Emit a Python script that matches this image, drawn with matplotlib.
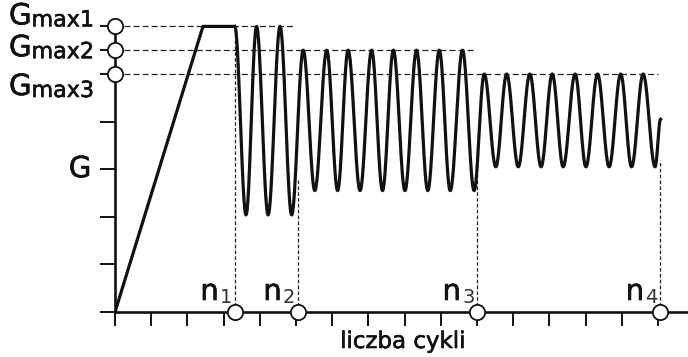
import numpy as np
import matplotlib
matplotlib.use("Agg")
import matplotlib.pyplot as plt
import matplotlib.patheffects as pe

plt.rcParams['font.family'] = ['DejaVu Sans']
plt.rcParams['lines.scale_dashes'] = False

# ---- data ----
ramp_x = [0.0, 2.43, 3.31]
ramp_y = [0.0, 6.0, 6.0]

osc_x = [3.31, 3.62, 3.91, 4.23, 4.56, 4.88,
         5.20, 5.52, 5.85, 6.15, 6.44, 6.77, 7.09, 7.39, 7.69, 8.01,
         8.33, 8.64, 8.96, 9.26, 9.60, 9.92,
         10.20, 10.52, 10.82, 11.14, 11.46, 11.77, 12.08, 12.38, 12.71, 13.01,
         13.33, 13.65, 13.97, 14.27, 14.59, 14.92, 15.07]
osc_y = [6.0, 2.04, 6.0, 2.04, 6.0, 2.04,
         5.5, 2.55, 5.5, 2.55, 5.5, 2.55, 5.5, 2.55, 5.5, 2.55,
         5.5, 2.55, 5.5, 2.55, 5.5, 2.55,
         5.0, 3.05, 5.0, 3.05, 5.0, 3.05, 5.0, 3.05, 5.0, 3.05,
         5.0, 3.05, 5.0, 3.05, 5.0, 3.05, 4.05]

gmax_levels = [6.0, 5.5, 5.0]
gmax_ends = [4.97, 9.97, 15.0]
gmax_labels = ["max1", "max2", "max3"]

n_pos = [3.31, 5.05, 10.0, 15.06]
n_dash_top = [6.0, 2.8, 3.1, 3.2]
n_labels = ["1", "2", "3", "4"]

x_ticks = list(range(16))
y_ticks = [0, 1, 2, 3, 4, 5, 5.5, 6]
x_label = "liczba cykli"
y_label = "G"

# ---- figure ----
W, H = 688, 357
fig = plt.figure(figsize=(W / 100, H / 100), dpi=100)
x0px, y0px = 115, 45
ux, uy = 36.2, 47.6
xmax = (W - x0px) / ux
ymax = 6.35
ax = fig.add_axes([x0px / W, y0px / H, (W - x0px) / W, ymax * uy / H])
ax.set_xlim(0, xmax)
ax.set_ylim(0, ymax)

ink = '#111111'
thick = [pe.withStroke(linewidth=0.45, foreground=ink)]

# smooth oscillation between extrema
def eased(xs, ys, k=30):
    ox, oy = [xs[0]], [ys[0]]
    t = np.linspace(0, 1, k)[1:]
    for i in range(len(xs) - 1):
        ox.extend(xs[i] + (xs[i + 1] - xs[i]) * t)
        oy.extend(ys[i] + (ys[i + 1] - ys[i]) * (1 - np.cos(np.pi * t)) / 2)
    return ox, oy

cx, cy = eased(osc_x, osc_y)
ax.plot(ramp_x, ramp_y, color=ink, lw=2.3, solid_capstyle='butt', zorder=4)
ax.plot(cx, cy, color=ink, lw=2.3, solid_joinstyle='round', zorder=4)

# horizontal dashed guides
for lev, xe in zip(gmax_levels, gmax_ends):
    ax.plot([0, xe], [lev, lev], color='#222222', lw=0.9,
            linestyle=(0, (4.3, 2.2)), zorder=2, clip_on=False)

# vertical dashed guides
for xn, top in zip(n_pos, n_dash_top):
    ax.plot([xn, xn], [0, top], color='#222222', lw=0.9,
            linestyle=(0, (2.6, 1.6)), zorder=2, clip_on=False)

# circles
ax.plot([0] * len(gmax_levels), gmax_levels, 'o', ms=11, mfc='white',
        mec=ink, mew=1.3, zorder=6, clip_on=False)
ax.plot(n_pos, [0] * len(n_pos), 'o', ms=11, mfc='white',
        mec=ink, mew=1.3, zorder=6, clip_on=False)

# spines / ticks
for s in ['top', 'right']:
    ax.spines[s].set_visible(False)
for s in ['left', 'bottom']:
    ax.spines[s].set_linewidth(1.9)
    ax.spines[s].set_color(ink)
ax.spines['left'].set_bounds(0, 6)
ax.set_xticks(x_ticks)
ax.set_yticks(y_ticks)
ax.tick_params(axis='x', direction='out', length=10, width=1.4, color=ink,
               labelbottom=False)
ax.tick_params(axis='y', direction='out', length=10.8, width=1.4, color=ink,
               labelleft=False)

# Gmax labels
label_offsets = [0, -8, -23]
for lev, lab, dy in zip(gmax_levels, gmax_labels, label_offsets):
    t = ax.annotate(lab, xy=(0, lev), xytext=(-21, dy), textcoords='offset pixels',
                    ha='right', va='baseline', fontsize=16, color=ink,
                    annotation_clip=False, path_effects=thick)
    ax.annotate("G", xy=(0, 0), xycoords=t, ha='right', va='bottom',
                fontsize=21, color=ink, annotation_clip=False,
                path_effects=thick)

# n labels
for xn, lab in zip(n_pos, n_labels):
    ax.annotate("n", xy=(xn, 0), xytext=(-16, 12), textcoords='offset pixels',
                ha='right', va='baseline', fontsize=21, color=ink,
                annotation_clip=False, path_effects=thick)
    ax.annotate(lab, xy=(xn, 0), xytext=(-15, 9), textcoords='offset pixels',
                ha='left', va='baseline', fontsize=14, color='#333333',
                annotation_clip=False)

# axis labels
ax.annotate(y_label, xy=(0, 3), xytext=(-35, 0), textcoords='offset pixels',
            ha='center', va='center', fontsize=21, color=ink,
            annotation_clip=False, path_effects=thick)
ax.annotate(x_label, xy=((402.5 - x0px) / ux, 0), xytext=(0, -36),
            textcoords='offset pixels', ha='center', va='baseline',
            fontsize=16.5, color=ink, annotation_clip=False,
            path_effects=thick)

fig.savefig("out.png", dpi=100)
